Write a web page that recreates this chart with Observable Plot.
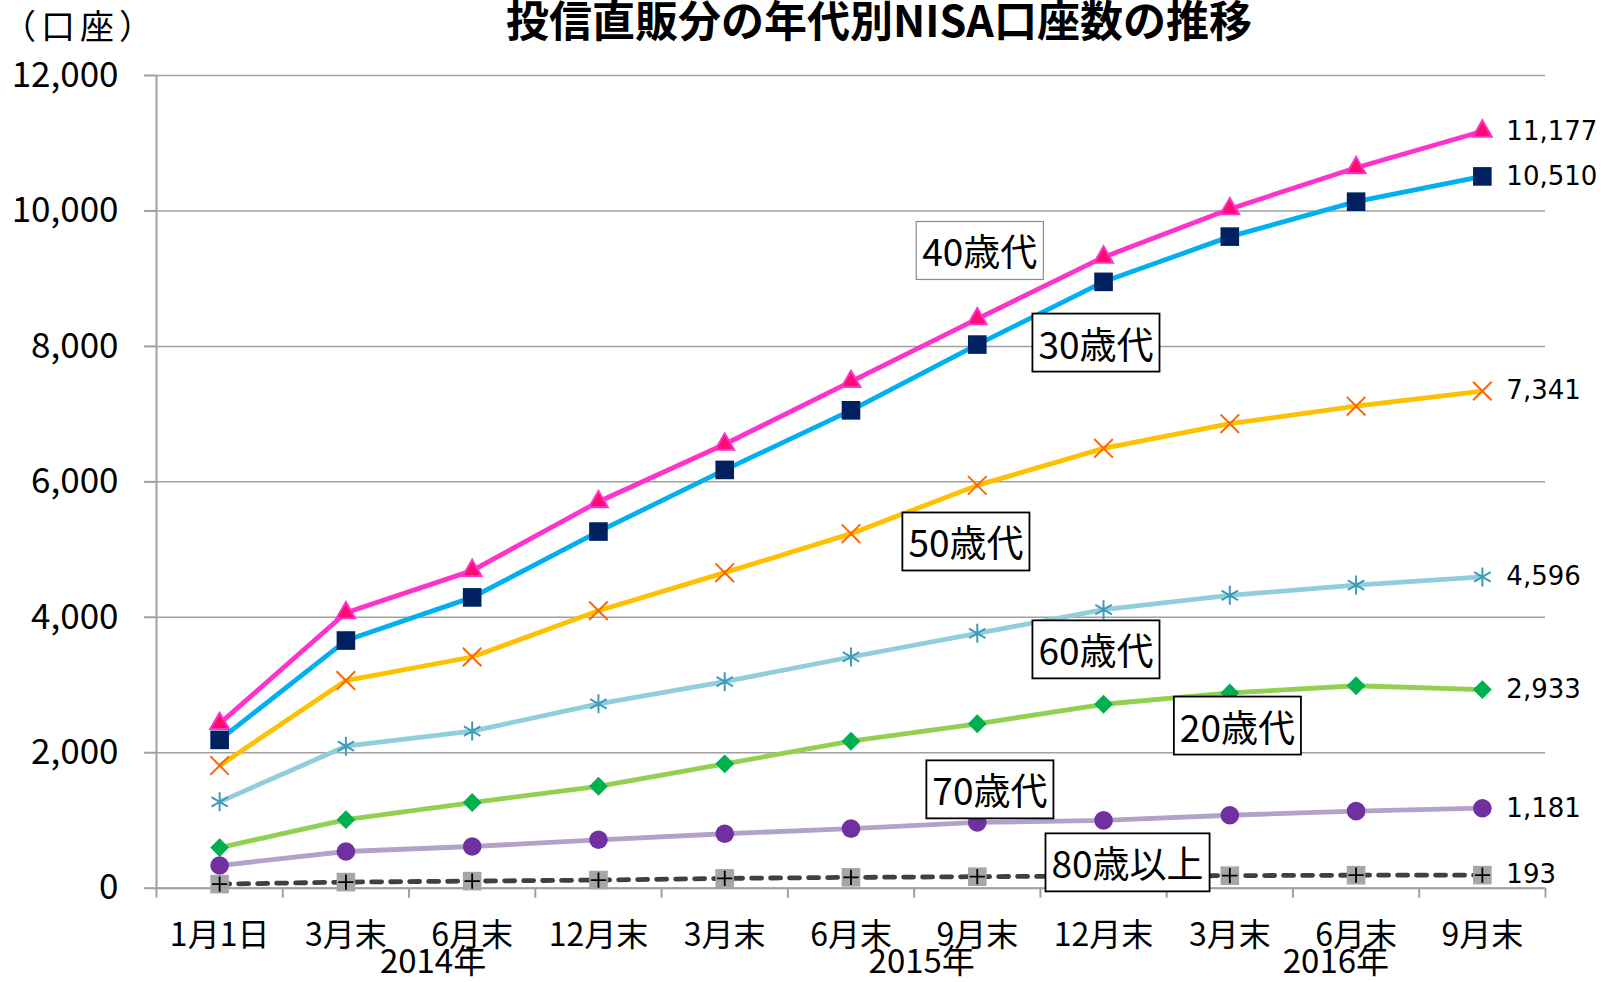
<!DOCTYPE html>
<html><head><meta charset="utf-8">
<script src="https://cdn.jsdelivr.net/npm/d3@7"></script>
<script src="https://cdn.jsdelivr.net/npm/@observablehq/plot@0.6"></script>
<style>
html,body{margin:0;padding:0;background:#fff;overflow:hidden;}
#header{position:relative;height:44px;width:1610px;z-index:2;font-family:"Noto Sans CJK JP",sans-serif;color:#000;}
#title{position:absolute;left:879px;top:-4px;transform:translateX(-50%);font-size:43px;font-weight:bold;line-height:44px;white-space:nowrap;}
#unit{position:absolute;left:2px;top:3px;font-size:34px;letter-spacing:5px;line-height:44px;white-space:nowrap;}
#chart{position:relative;z-index:1;}
#chart svg{background:transparent;}
</style></head>
<body>
<div id="header"><div id="title">投信直販分の年代別NISA口座数の推移</div><div id="unit">（口座）</div></div>
<div id="chart"></div>
<script>
// ---- data ----
const categories = ["1月1日","3月末","6月末","12月末","3月末","6月末","9月末","12月末","3月末","6月末","9月末"];
const years = ["2014年","2015年","2016年"];
const yearAt = [1.69, 5.56, 8.84];           // category-index position of each year label
const yTicks = [0, 2000, 4000, 6000, 8000, 10000, 12000];
const ages = ["20歳代","30歳代","40歳代","50歳代","60歳代","70歳代","80歳以上"];
const v20 = [600, 1012, 1265, 1505, 1836, 2170, 2428, 2716, 2883, 2989, 2933];
const v30 = [2190, 3657, 4294, 5266, 6176, 7056, 8027, 8953, 9621, 10137, 10510];
const v40 = [2430, 4067, 4689, 5706, 6555, 7481, 8407, 9317, 10030, 10637, 11177];
const v50 = [1810, 3066, 3414, 4097, 4659, 5235, 5948, 6495, 6859, 7117, 7341];
const v60 = [1275, 2097, 2320, 2722, 3050, 3414, 3763, 4112, 4325, 4476, 4596];
const v70 = [335, 542, 616, 715, 804, 880, 971, 1001, 1077, 1138, 1181];
const v80 = [60, 90, 105, 120, 145, 160, 170, 180, 185, 192, 193];
// annotation label anchors (category index, value)
const labelAt = {
  "40歳代": [6.02, 9355], "30歳代": [6.94, 7995], "50歳代": [5.91, 5058],
  "60歳代": [6.94, 3465], "20歳代": [8.06, 2340], "70歳代": [6.10, 1398], "80歳以上": [7.19, 320]
};

const values = {"20歳代": v20, "30歳代": v30, "40歳代": v40, "50歳代": v50, "60歳代": v60, "70歳代": v70, "80歳以上": v80};
const style = {
  "20歳代": {line: "#92D050", symbol: "diamond2", r: 8.5, fill: "#00B050", stroke: "none"},
  "30歳代": {line: "#00B0F0", symbol: "square", r: 10.5, fill: "#002060", stroke: "none"},
  "40歳代": {line: "#FF33CC", symbol: "triangle", r: 7, fill: "#FF0A6E", stroke: "#FF33CC"},
  "50歳代": {line: "#FFC000", symbol: "times", r: 8.5, fill: "none", stroke: "#FF6600"},
  "60歳代": {line: "#92CDDC", symbol: "asterisk", r: 9, fill: "none", stroke: "#3E9BBA"},
  "70歳代": {line: "#B3A2C7", symbol: "circle", r: 9.3, fill: "#7030A0", stroke: "none"},
  "80歳以上": {line: "#404040", symbol: "square", r: 10.5, fill: "#A6A6A6", stroke: "none", dash: "10,9"}
};

const fmt = d3.format(",");
const drawOrder = ["20歳代","30歳代","40歳代","50歳代","60歳代","70歳代","80歳以上"];

const marks = [
  Plot.gridY(yTicks, {stroke: "#A0A0A0", strokeOpacity: 1, strokeWidth: 1.5}),
  Plot.ruleX([-0.5], {stroke: "#A0A0A0", strokeWidth: 2}),
  Plot.ruleY([0], {stroke: "#A0A0A0", strokeWidth: 2}),
  Plot.axisY(yTicks, {tickSize: 12, tickPadding: 26, stroke: "#A0A0A0", strokeWidth: 2, fill: "#000", fontSize: 35, tickFormat: fmt}),
  Plot.axisX(d3.range(-0.5, 11, 1), {tickSize: 10, stroke: "#A0A0A0", strokeWidth: 2, tickFormat: () => ""}),
  Plot.axisX(d3.range(0, 11), {tickSize: 0, tickPadding: 35, fill: "#000", fontSize: 32, tickFormat: i => categories[i]}),
  Plot.text(years, {x: (d, i) => yearAt[i], frameAnchor: "bottom", lineAnchor: "middle", dy: 74, fontSize: 33, fill: "#000"})
];

for (const a of drawOrder) {
  const s = style[a];
  const rows = values[a].map((v, i) => ({i, v}));
  marks.push(Plot.line(rows, {x: "i", y: "v", stroke: s.line, strokeWidth: 4.8,
    strokeDasharray: s.dash, strokeLinecap: s.dash ? "round" : "butt"}));
  marks.push(Plot.dot(rows, {x: "i", y: "v", symbol: s.symbol, r: s.r, fill: s.fill, stroke: s.stroke, strokeWidth: 2}));
  if (a === "80歳以上") {
    marks.push(Plot.dot(rows, {x: "i", y: "v", symbol: "plus", r: 5, stroke: "#000", strokeWidth: 1.8}));
  }
}

// end-value labels
const ends = ages.map(a => ({a, i: 10, v: values[a][10]}));
marks.push(Plot.text(ends, {x: "i", y: "v", text: d => fmt(d.v), dx: 24, textAnchor: "start",
  fontSize: 26, fontFamily: "DejaVu Sans", fill: "#000"}));

// series name labels (boxed later)
const labs = Object.keys(labelAt).map(a => ({a, x: labelAt[a][0], y: labelAt[a][1]}));
marks.push(Plot.text(labs, {x: "x", y: "y", text: "a", fontSize: 37, fill: "#000"}));

const chart = Plot.plot({
  width: 1610,
  height: 938,
  marginTop: 31,
  marginBottom: 94.3,
  marginLeft: 156,
  marginRight: 65,
  x: {type: "linear", domain: [-0.5, 10.5]},
  y: {domain: [0, 12000]},
  style: {fontFamily: "'Noto Sans CJK JP', sans-serif", background: "transparent", color: "#000"},
  marks
});
document.getElementById("chart").appendChild(chart);

// draw white boxes behind the series-name labels
const names = new Set(ages);
const svgNS = "http://www.w3.org/2000/svg";
chart.querySelectorAll("text").forEach(t => {
  if (!names.has(t.textContent)) return;
  const b = t.getBBox();
  const padX = 6, padY = 2;
  const r = document.createElementNS(svgNS, "rect");
  r.setAttribute("x", b.x - padX);
  r.setAttribute("y", b.y - padY);
  r.setAttribute("width", b.width + 2 * padX);
  r.setAttribute("height", b.height + 2 * padY);
  r.setAttribute("fill", "#fff");
  r.setAttribute("stroke", t.textContent === "40歳代" ? "#8c8c8c" : "#000");
  r.setAttribute("stroke-width", t.textContent === "40歳代" ? 1.2 : 1.8);
  const tr = t.getAttribute("transform");
  if (tr) r.setAttribute("transform", tr);
  t.parentNode.insertBefore(r, t);
});
</script>
</body></html>
